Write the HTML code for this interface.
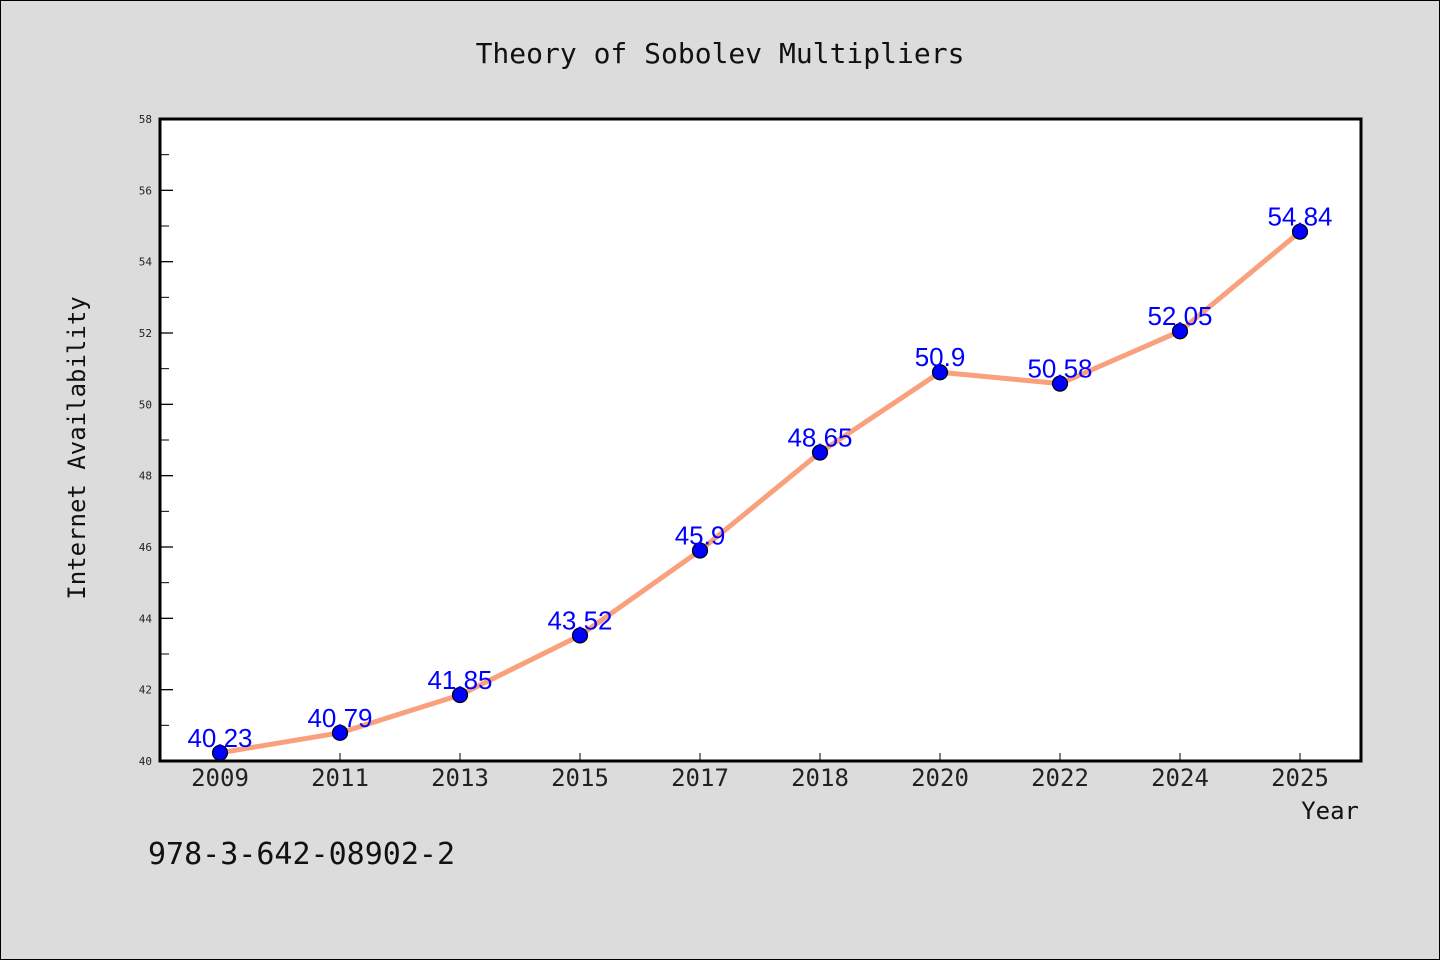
<!DOCTYPE html>
<html><head><meta charset="utf-8"><style>
body{margin:0;background:#dcdcdc;}
svg{display:block;font-family:"WenQuanYi Zen Hei","DejaVu Sans Mono",monospace;}
</style></head><body>
<svg id="c" width="1440" height="960">
<rect x="0.5" y="0.5" width="1439" height="959" fill="#dcdcdc" stroke="#000"/>
<text x="720" y="63" text-anchor="middle" font-size="28" fill="#111">Theory of Sobolev Multipliers</text>
<rect x="160" y="119" width="1201" height="642" fill="#fff"/>
<g id="ticks"></g>
<g id="series"></g>
<rect x="160" y="119" width="1201" height="642" fill="none" stroke="#000" stroke-width="3"/>
<text transform="translate(85,448) rotate(-90)" text-anchor="middle" font-size="24" fill="#111">Internet Availability</text>
<text x="1359" y="819" text-anchor="end" font-size="24" fill="#111">Year</text>
<text x="148" y="864" font-size="30" fill="#111">978-3-642-08902-2</text>
</svg>
<script>
const categories=["2009","2011","2013","2015","2017","2018","2020","2022","2024","2025"];
const values=[40.23,40.79,41.85,43.52,45.9,48.65,50.9,50.58,52.05,54.84];
const labels=["40.23","40.79","41.85","43.52","45.9","48.65","50.9","50.58","52.05","54.84"];
const yTicks=[40,42,44,46,48,50,52,54,56,58];
const NS="http://www.w3.org/2000/svg";
const X0=160,W=1200,Y0=761,H=642,YMIN=40,YMAX=58;
const x=i=>X0+(i+0.5)*W/categories.length;
const y=v=>Y0-(v-YMIN)/(YMAX-YMIN)*H;
function mk(t,a,p){const e=document.createElementNS(NS,t);for(const k in a)e.setAttribute(k,a[k]);p.appendChild(e);return e;}
const tg=document.getElementById('ticks'),sg=document.getElementById('series');
yTicks.forEach((v,i)=>{
  const l=mk('line',{x1:160,x2:173,y1:y(v),y2:y(v),stroke:'#000','stroke-width':1.3},tg);
  
  
  const t=mk('text',{x:152,y:y(v)+4,'text-anchor':'end','font-size':11,fill:'#222'},tg);
  t.textContent=v;
  
  
  if(i<yTicks.length-1){
    const m=mk('line',{x1:160,x2:169,y1:y(v+1),y2:y(v+1),stroke:'#000','stroke-width':1},tg);
    
    
  }
});
categories.forEach((c,i)=>{
  const l=mk('line',{x1:x(i),x2:x(i),y1:761,y2:753,stroke:'#000','stroke-width':1},tg);
  
  
  const t=mk('text',{x:x(i),y:786,'text-anchor':'middle','font-size':24,fill:'#222'},tg);
  t.textContent=c;
  
  
});
const line=mk('polyline',{points:values.map((v,i)=>x(i)+','+y(v)).join(' '),fill:'none',stroke:'#f9a07c','stroke-width':5,'stroke-linejoin':'round'},sg);


values.forEach((v,i)=>{
  const c=mk('circle',{cx:x(i),cy:y(v),r:7.5,fill:'#0000ff',stroke:'#000','stroke-width':1.2},sg);
  
  
  const t=mk('text',{x:x(i),y:y(v)-6,'text-anchor':'middle','font-size':26,fill:'#0000ff','font-family':'"Liberation Sans",sans-serif'},sg);
  t.textContent=labels[i];
  
  
});
</script>
</body></html>
